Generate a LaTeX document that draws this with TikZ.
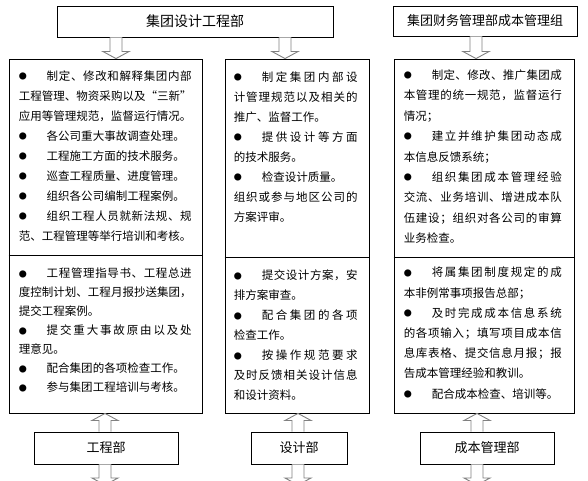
\documentclass[tikz,border=0pt]{standalone}
\usepackage{fontspec}
\setmainfont{Noto Sans CJK SC}
\usetikzlibrary{positioning,calc}

% glue between CJK characters, so that a line can be set full width
\XeTeXinterchartokenstate=1
\newXeTeXintercharclass\cjkchar
\count255="3000
\loop\XeTeXcharclass\count255=\cjkchar\advance\count255 by 1 \ifnum\count255<"3040 \repeat
\count255="4E00
\loop\XeTeXcharclass\count255=\cjkchar\advance\count255 by 1 \ifnum\count255<"A000 \repeat
\count255="FF00
\loop\XeTeXcharclass\count255=\cjkchar\advance\count255 by 1 \ifnum\count255<"FF60 \repeat
\XeTeXcharclass"201C=\cjkchar
\XeTeXcharclass"201D=\cjkchar
\XeTeXinterchartoks\cjkchar\cjkchar={\hskip 0pt plus 3pt minus 0.6pt\relax}

\newcommand\bul{\makebox[28pt][l]{\raisebox{0.8pt}{\fontsize{8}{8}\selectfont ●}}}
\newcommand\jl[1]{\makebox[\linewidth][s]{#1}}
\newcommand\nl[1]{\makebox[\linewidth][l]{#1}}

\tikzset{
    frame/.style={
        draw,
        line width=0.9pt,
        inner sep=0pt
    },
    label13/.style={
        frame,
        font=\fontsize{13}{13}\selectfont
    },
    duty/.style={
        anchor=north west,
        inner sep=0pt,
        align=left,
        font=\fontsize{11.5}{20}\selectfont
    },
    hollow/.style={
        draw=gray,
        fill=white,
        line width=0.9pt
    }
}

% hollow block arrow from #1 to #2 (vertical)
\newcommand\hollowarrow[2]{%
    \draw[hollow] let \p1=(#1), \p2=(#2), \p3=($(#2)!7pt!(#1)$) in
        (\x1-6pt,\y1) -- (\x1-6pt,\y3) -- (\x1-13pt,\y3) -- (\x2,\y2)
        -- (\x1+13pt,\y3) -- (\x1+6pt,\y3) -- (\x1+6pt,\y1);}

\begin{document}
\begin{tikzpicture}[x=1pt, y=-1pt]
    \useasboundingbox (0,0) rectangle (588,481);

    % top: group departments
    \node[label13, font=\fontsize{14}{14}\selectfont, minimum width=276, minimum height=31] (design) at (195,21.5) {集团设计工程部};
    \node[label13, minimum width=184, minimum height=30] (finance) at (485,21) {集团财务管理部成本管理组};

    % duty boxes
    \node[frame, minimum width=193, minimum height=354] (dutyL) at (105.5,236) {};
    \node[frame, minimum width=144, minimum height=354] (dutyM) at (297,236) {};
    \node[frame, minimum width=180, minimum height=354] (dutyR) at (484,236) {};

    \coordinate (cutL) at (dutyL.west |- 0,255);
    \coordinate (cutM) at (dutyM.west |- 0,257);
    \coordinate (cutR) at (dutyR.west |- 0,257);
    \draw[line width=0.9pt] (cutL) -- (cutL -| dutyL.east);
    \draw[line width=0.9pt] (cutM) -- (cutM -| dutyM.east);
    \draw[line width=0.9pt] (cutR) -- (cutR -| dutyR.east);

    % bottom: departments
    \node[label13, minimum width=144, minimum height=32] (works) at (106,448) {工程部};
    \node[label13, minimum width=96, minimum height=32] (plans) at (299,448) {设计部};
    \node[label13, minimum width=134, minimum height=32] (costs) at (487,448) {成本管理部};

    % texts, engineering
    \node[duty, text width=173, below right=12pt and 10pt of dutyL.north west] (groupL) {%
        \jl{\bul 制定、修改和解释集团内部}\\
        \jl{工程管理、物资采购以及“三新”}\\
        \nl{应用等管理规范，监督运行情况。}\\
        \nl{\bul 各公司重大事故调查处理。}\\
        \nl{\bul 工程施工方面的技术服务。}\\
        \nl{\bul 巡查工程质量、进度管理。}\\
        \nl{\bul 组织各公司编制工程案例。}\\
        \jl{\bul 组织工程人员就新法规、规}\\
        \nl{范、工程管理等举行培训和考核。}};
    \node[duty, text width=173, font=\fontsize{11.5}{19}\selectfont,
          below right=13pt and 10pt of cutL] (deptL) {%
        \jl{\bul 工程管理指导书、工程总进}\\
        \jl{度控制计划、工程月报抄送集团，}\\
        \nl{提交工程案例。}\\
        \jl{\bul 提交重大事故原由以及处}\\
        \nl{理意见。}\\
        \nl{\bul 配合集团的各项检查工作。}\\
        \nl{\bul 参与集团工程培训与考核。}};

    % texts, design
    \node[duty, text width=124, below right=13pt and 9pt of dutyM.north west] (groupM) {%
        \jl{\bul 制定集团内部设}\\
        \jl{计管理规范以及相关的}\\
        \nl{推广、监督工作。}\\
        \jl{\bul 提供设计等方面}\\
        \nl{的技术服务。}\\
        \nl{\bul 检查设计质量。}\\
        \jl{组织或参与地区公司的}\\
        \nl{方案评审。}};
    \node[duty, text width=124, below right=13pt and 9pt of cutM] (deptM) {%
        \jl{\bul 提交设计方案，安}\\
        \nl{排方案审查。}\\
        \jl{\bul 配合集团的各项}\\
        \nl{检查工作。}\\
        \jl{\bul 按操作规范要求}\\
        \jl{及时反馈相关设计信息}\\
        \nl{和设计资料。}};

    % texts, cost
    \node[duty, text width=158, font=\fontsize{11.5}{20.4}\selectfont,
          below right=11pt and 10pt of dutyR.north west] (groupR) {%
        \jl{\bul 制定、修改、推广集团成}\\
        \jl{本管理的统一规范，监督运行}\\
        \nl{情况；}\\
        \jl{\bul 建立并维护集团动态成}\\
        \nl{本信息反馈系统；}\\
        \jl{\bul 组织集团成本管理经验}\\
        \jl{交流、业务培训、增进成本队}\\
        \jl{伍建设；组织对各公司的审算}\\
        \nl{业务检查。}};
    \node[duty, text width=158, font=\fontsize{11.5}{20.2}\selectfont,
          below right=10pt and 10pt of cutR] (deptR) {%
        \jl{\bul 将属集团制度规定的成}\\
        \nl{本非例常事项报告总部；}\\
        \jl{\bul 及时完成成本信息系统}\\
        \jl{的各项输入；填写项目成本信}\\
        \jl{息库表格、提交信息月报；报}\\
        \nl{告成本管理经验和教训。}\\
        \nl{\bul 配合成本检查、培训等。}};

    % arrows
    \foreach \from/\to/\ax in {design/dutyL/116, design/dutyM/285, finance/dutyR/476}{
        \coordinate (tail) at (\from.south -| \ax,0);
        \coordinate (head) at (\to.north -| \ax,0);
        \hollowarrow{tail}{head}
    }
    \foreach \from/\to/\ax in {works/dutyL/105, plans/dutyM/298, costs/dutyR/477}{
        \coordinate (tail) at (\from.north -| \ax,0);
        \coordinate (head) at (\to.south -| \ax,0);
        \hollowarrow{tail}{head}
    }
    \coordinate (outL) at (105,485);
    \coordinate (outM) at (298,485);
    \coordinate (outR) at (477,485);
    \foreach \from/\to in {works/outL, plans/outM, costs/outR}{
        \coordinate (tail) at (\from.south -| \to);
        \hollowarrow{tail}{\to}
    }
\end{tikzpicture}
\end{document}
